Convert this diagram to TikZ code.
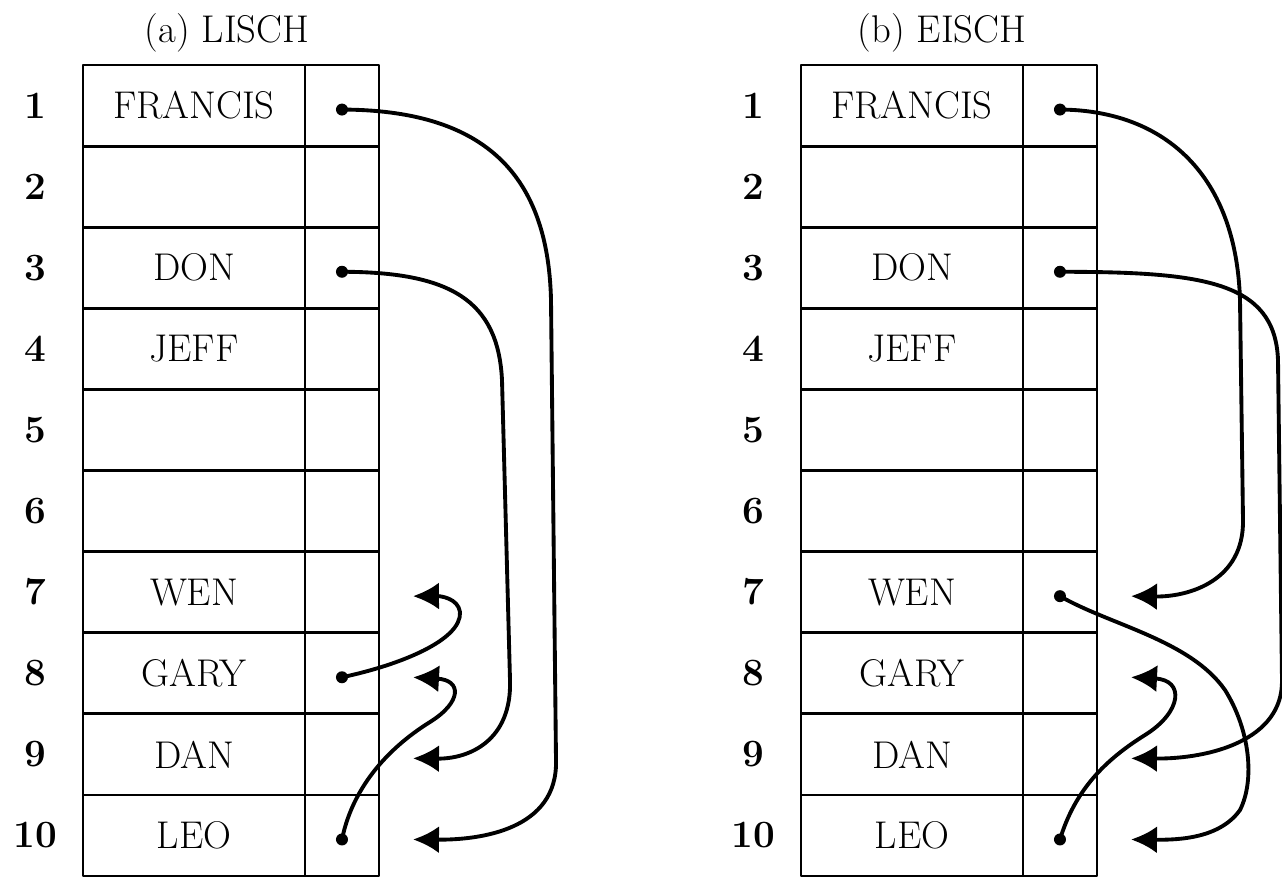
\documentclass[tikz,border=0pt]{standalone}
\usetikzlibrary{arrows.meta,calc,positioning}
\tikzstyle{every node}=[font=\fontsize{22}{26}\selectfont]
\tikzstyle{every path}=[line cap=round,line join=round]
\tikzstyle{namecell}=[draw,line width=1.6pt,minimum width=4.44cm,minimum height=1.622cm,inner sep=0pt,outer sep=0pt]
\tikzstyle{ptrcell}=[namecell,minimum width=1.48cm]
\tikzstyle{rowno}=[font=\fontsize{22}{26}\selectfont\bfseries]
\tikzstyle{link}=[line width=2.2pt,-{Latex[length=0.52cm,width=0.54cm]}]

\begin{document}
\begin{tikzpicture}[x=0.02cm,y=-0.02cm]
    \useasboundingbox (0,0) rectangle (1282,877);

    % titles
    \node [anchor=base] (a-title) at (227,42) {(a) LISCH};
    \node [anchor=base] (b-title) at (942,42) {(b) EISCH};

    % the two tables, rows 1 to 10
    \foreach \t/\x in {a/83,b/801}{
        \foreach \name [count=\i] in {FRANCIS,{},DON,JEFF,{},{},WEN,GARY,DAN,LEO}{
            \node [namecell] (\t-n\i) at ({\x+111},{65+81.1*(\i-0.5)}) {\name};
            \node [ptrcell,right=0pt of \t-n\i] (\t-p\i) {};
            \node [rowno] (\t-r\i) at ({\x-48},{65+81.1*(\i-0.5)}) {\i};
            \coordinate (\t-d\i) at ($(\t-p\i.center)+(0,4)$);
            \coordinate (\t-e\i) at ($(\t-p\i.east)+(34,4)$);
        }
    }

    % pointer dots
    \foreach \d in {a-d1,a-d3,a-d8,a-d10,b-d1,b-d3,b-d7,b-d10}
        \fill (\d) circle [radius=0.12cm];

    % LISCH chains
    \draw [link] (a-d1) .. controls (480,110) and (548,170) .. (551,300)
        -- (556,760) .. controls (558,830) and (480,840) .. (a-e10);
    \draw [link] (a-d3) .. controls (450,272) and (498,300) .. (502,380)
        -- (510,680) .. controls (512,740) and (470,759) .. (a-e9);
    \draw [link] (a-d8) .. controls (400,665) and (462,640) .. (460,612)
        .. controls (458,598) and (440,596) .. (a-e7);
    \draw [link] (a-d10) .. controls (352,790) and (385,750) .. (430,722)
        .. controls (462,702) and (462,680) .. (a-e8);

    % EISCH chains
    \draw [link] (b-d1) .. controls (1160,110) and (1236,170) .. (1240,300)
        -- (1243,520) .. controls (1244,580) and (1190,597) .. (b-e7);
    \draw [link] (b-d3) .. controls (1200,272) and (1275,280) .. (1278,360)
        -- (1282,680) .. controls (1283,740) and (1210,759) .. (b-e9);
    \draw [link] (b-d7) .. controls (1110,625) and (1190,640) .. (1225,690)
        .. controls (1250,730) and (1255,780) .. (1240,810)
        .. controls (1220,838) and (1180,840) .. (b-e10);
    \draw [link] (b-d10) .. controls (1075,790) and (1105,760) .. (1145,735)
        .. controls (1182,712) and (1185,680) .. (b-e8);
\end{tikzpicture}
\end{document}
